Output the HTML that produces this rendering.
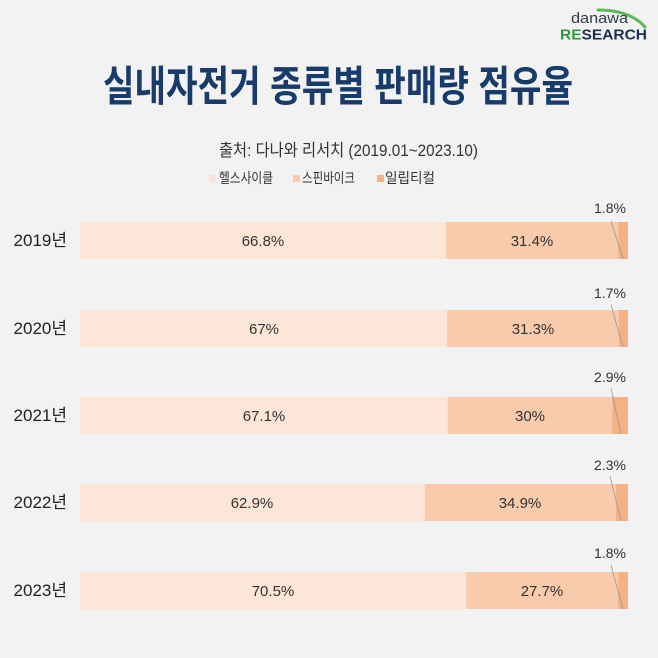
<!DOCTYPE html>
<html>
<head>
<meta charset="utf-8">
<style>
html,body{margin:0;padding:0;background:#f2f2f2;}
svg{display:block;}
</style>
</head>
<body>
<svg width="658" height="658" viewBox="0 0 658 658" xmlns="http://www.w3.org/2000/svg">
<rect x="0" y="0" width="658" height="658" fill="#f2f2f2"/>

<!-- Logo -->
<path d="M598 10 Q630 10 645 27" fill="none" stroke="#5cb85c" stroke-width="3" stroke-linecap="round"/>
<text x="571" y="23" font-family="Liberation Sans, sans-serif" font-size="15" fill="#333a48" textLength="57" lengthAdjust="spacingAndGlyphs">danawa</text>
<text x="560" y="39.5" font-family="Liberation Sans, sans-serif" font-size="15" font-weight="bold" textLength="87" lengthAdjust="spacingAndGlyphs"><tspan fill="#2f9a3c">RE</tspan><tspan fill="#1c2f52">SEARCH</tspan></text>

<!-- Title -->
<text x="103" y="101" font-family="Liberation Sans, 'Noto Sans CJK KR', sans-serif" font-size="42" font-weight="bold" fill="#173b6b" textLength="470" lengthAdjust="spacingAndGlyphs">실내자전거 종류별 판매량 점유율</text>

<!-- Subtitle -->
<text x="219" y="156" font-family="Liberation Sans, 'Noto Sans CJK KR', sans-serif" font-size="17" fill="#333" textLength="259" lengthAdjust="spacingAndGlyphs">출처: 다나와 리서치 (2019.01~2023.10)</text>

<!-- Legend -->
<rect x="209" y="175" width="7" height="7" fill="#fde3d5"/>
<text x="219" y="183" font-family="Liberation Sans, 'Noto Sans CJK KR', sans-serif" font-size="14" fill="#333" textLength="54" lengthAdjust="spacingAndGlyphs">헬스사이클</text>
<rect x="293" y="175" width="7" height="7" fill="#f8cbad"/>
<text x="302" y="183" font-family="Liberation Sans, 'Noto Sans CJK KR', sans-serif" font-size="14" fill="#333" textLength="53" lengthAdjust="spacingAndGlyphs">스핀바이크</text>
<rect x="377" y="175" width="7" height="7" fill="#f4b183"/>
<text x="385" y="183" font-family="Liberation Sans, 'Noto Sans CJK KR', sans-serif" font-size="14" fill="#333" textLength="50" lengthAdjust="spacingAndGlyphs">일립티컬</text>

<g font-family="Liberation Sans, 'Noto Sans CJK KR', sans-serif" fill="#222">
<!-- 2019 -->
<text x="67" y="246" font-size="17" text-anchor="end">2019년</text>
<rect x="80" y="222" width="366.1" height="37" fill="#fde5d8"/>
<rect x="446.1" y="222" width="172.1" height="37" fill="#f8cbad"/>
<rect x="618.2" y="222" width="9.8" height="37" fill="#f4b183"/>
<text x="263" y="246" font-size="15" text-anchor="middle" fill="#333">66.8%</text>
<text x="532" y="246" font-size="15" text-anchor="middle" fill="#333">31.4%</text>
<text x="610" y="213" font-size="14" text-anchor="middle" fill="#333">1.8%</text>
<line x1="611" y1="221" x2="623" y2="259" stroke="#999" stroke-width="0.8"/>

<!-- 2020 -->
<text x="67" y="334" font-size="17" text-anchor="end">2020년</text>
<rect x="80" y="310" width="367.2" height="37" fill="#fde5d8"/>
<rect x="447.2" y="310" width="171.5" height="37" fill="#f8cbad"/>
<rect x="618.7" y="310" width="9.3" height="37" fill="#f4b183"/>
<text x="264" y="334" font-size="15" text-anchor="middle" fill="#333">67%</text>
<text x="533" y="334" font-size="15" text-anchor="middle" fill="#333">31.3%</text>
<text x="610" y="298" font-size="14" text-anchor="middle" fill="#333">1.7%</text>
<line x1="611" y1="305" x2="623" y2="347" stroke="#999" stroke-width="0.8"/>

<!-- 2021 -->
<text x="67" y="421" font-size="17" text-anchor="end">2021년</text>
<rect x="80" y="397" width="367.7" height="37" fill="#fde5d8"/>
<rect x="447.7" y="397" width="164.4" height="37" fill="#f8cbad"/>
<rect x="612.1" y="397" width="15.9" height="37" fill="#f4b183"/>
<text x="264" y="421" font-size="15" text-anchor="middle" fill="#333">67.1%</text>
<text x="530" y="421" font-size="15" text-anchor="middle" fill="#333">30%</text>
<text x="610" y="382" font-size="14" text-anchor="middle" fill="#333">2.9%</text>
<line x1="611" y1="388" x2="621" y2="434" stroke="#999" stroke-width="0.8"/>

<!-- 2022 -->
<text x="67" y="508" font-size="17" text-anchor="end">2022년</text>
<rect x="80" y="484" width="344.7" height="37" fill="#fde5d8"/>
<rect x="424.7" y="484" width="191.3" height="37" fill="#f8cbad"/>
<rect x="616" y="484" width="12" height="37" fill="#f4b183"/>
<text x="252" y="508" font-size="15" text-anchor="middle" fill="#333">62.9%</text>
<text x="520" y="508" font-size="15" text-anchor="middle" fill="#333">34.9%</text>
<text x="610" y="470" font-size="14" text-anchor="middle" fill="#333">2.3%</text>
<line x1="610" y1="476" x2="621" y2="521" stroke="#999" stroke-width="0.8"/>

<!-- 2023 -->
<text x="67" y="596" font-size="17" text-anchor="end">2023년</text>
<rect x="80" y="572" width="386.3" height="37" fill="#fde5d8"/>
<rect x="466.3" y="572" width="151.8" height="37" fill="#f8cbad"/>
<rect x="618.1" y="572" width="9.9" height="37" fill="#f4b183"/>
<text x="273" y="596" font-size="15" text-anchor="middle" fill="#333">70.5%</text>
<text x="542" y="596" font-size="15" text-anchor="middle" fill="#333">27.7%</text>
<text x="610" y="558" font-size="14" text-anchor="middle" fill="#333">1.8%</text>
<line x1="611" y1="565" x2="623" y2="609" stroke="#999" stroke-width="0.8"/>
</g>
</svg>
</body>
</html>
